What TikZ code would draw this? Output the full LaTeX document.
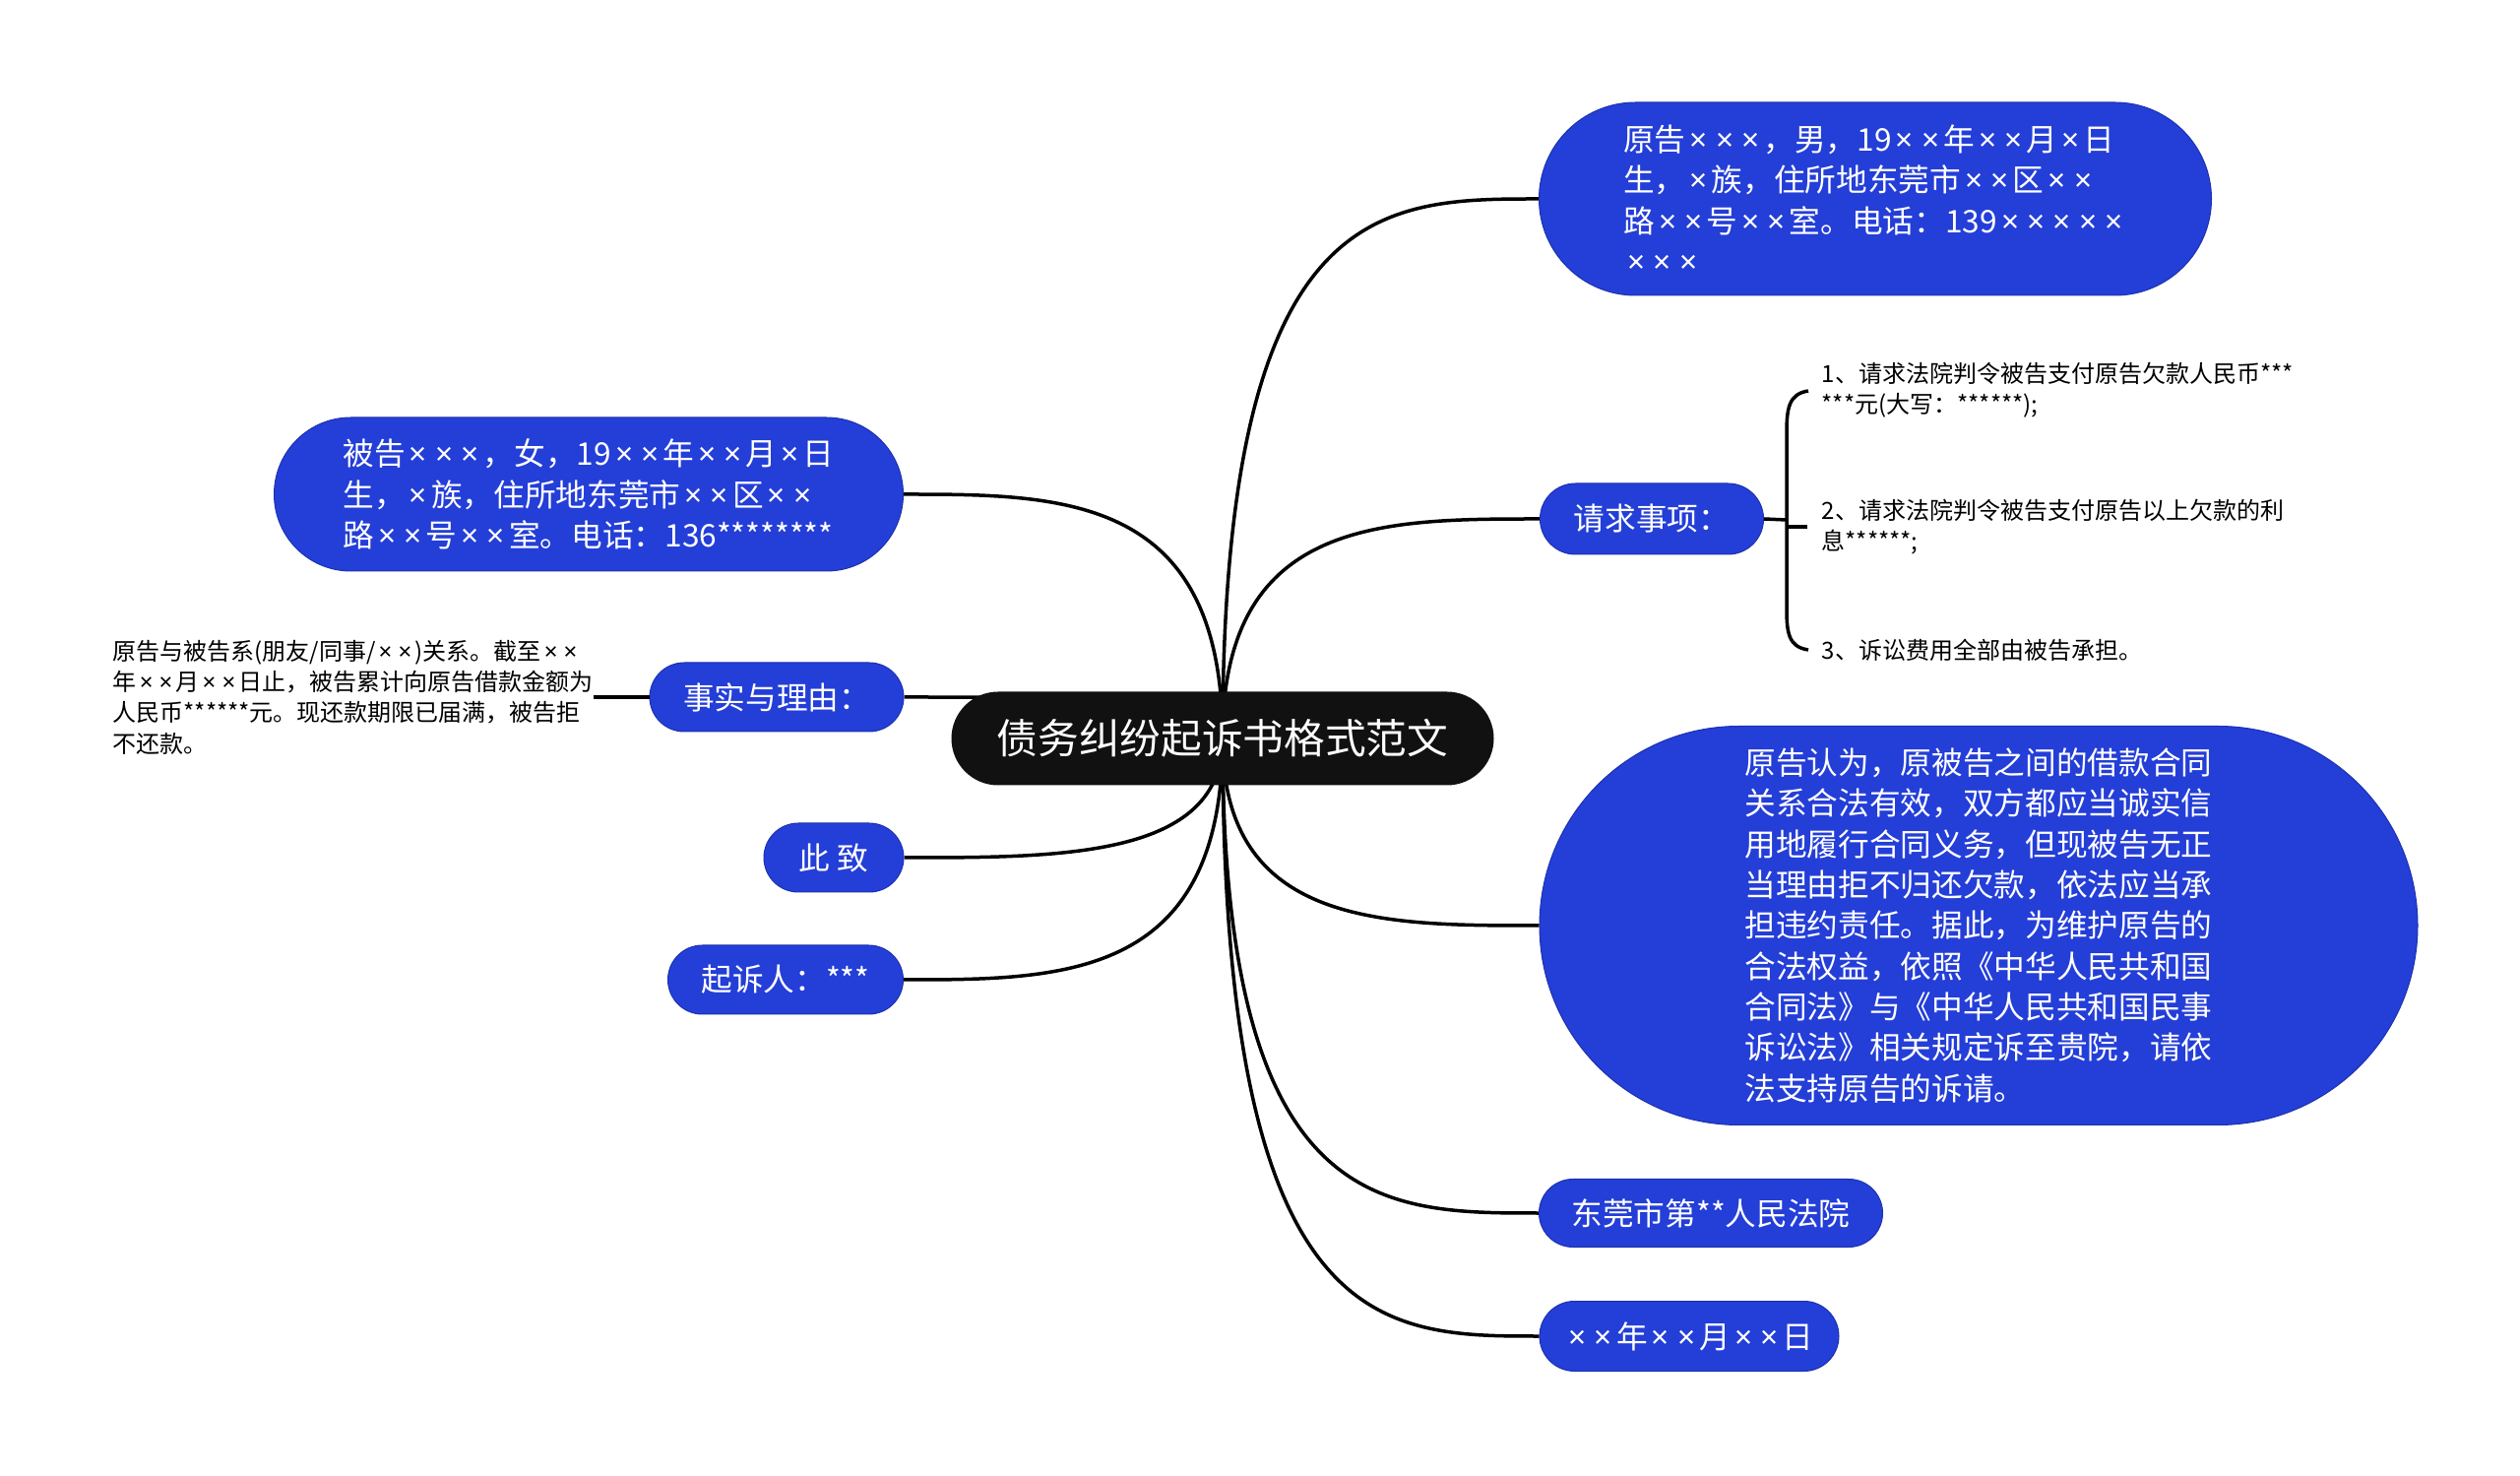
\documentclass[tikz,border=0pt]{standalone}
\usepackage{fontspec}
\setmainfont{Noto Sans CJK SC}
\newfontfamily\narrowfont{Noto Sans}
\usepackage{tikz}
\usetikzlibrary{calc, backgrounds}
\definecolor{mapblue}{RGB}{36,62,216}
\definecolor{rootblack}{RGB}{17,17,17}
\newcommand{\midsize}{\fontsize{9.5pt}{12.4pt}\selectfont}
\newcommand{\smallsize}{\fontsize{7.2pt}{9.4pt}\selectfont}
\newcommand{\rootsize}{\fontsize{12.5pt}{15pt}\selectfont}
% narrow multiplication sign, as in the reference
\catcode`\×=\active
\def×{\kern0.13em{\narrowfont\char"D7\relax}\kern0.13em}

\begin{document}
\begin{tikzpicture}[x=0.3pt, y=-0.3pt,
		% Blue topic boxes of the mind map
		topic/.style={
			fill=mapblue,
			draw=mapblue!80!black,
			line width=0.3pt,
			text=white,
			font=\midsize,
			align=left,
			inner sep=0pt
		},
		% Size in pixels, ends fully rounded
		pill/.style 2 args={
			minimum width=#1*0.3pt,
			minimum height=#2*0.3pt,
			rounded corners=#2*0.15pt
		},
		% Plain text beside a topic
		note/.style={
			font=\smallsize,
			align=left,
			inner sep=0pt,
			anchor=west
		},
		% Curved branch lines
		branch/.style={
			line width=1.05pt,
			black
		}
		]
		
		\useasboundingbox (0,0) rectangle (2560,1499);
		
		% --- Central topic ---
		\node[fill=rootblack, text=white, font=\rootsize, inner sep=0pt, pill={551}{95}] (root) at (1242,750) {债务纠纷起诉书格式范文};
		
		% --- Right branches ---
		\node[topic, pill={683}{196}] (plaintiff) at (1905,202) {原告×××，男，19××年××月×日\\生，×族，住所地东莞市××区××\\路××号××室。电话：139×××××\\×××};
		\node[topic, pill={227}{72}] (claims) at (1678,527) {请求事项：};
		\node[topic, pill={892}{405}] (reason) at (2010,940) {原告认为，原被告之间的借款合同\\关系合法有效，双方都应当诚实信\\用地履行合同义务，但现被告无正\\当理由拒不归还欠款，依法应当承\\担违约责任。据此，为维护原告的\\合法权益，依照《中华人民共和国\\合同法》与《中华人民共和国民事\\诉讼法》相关规定诉至贵院，请依\\法支持原告的诉请。};
		\node[topic, pill={349}{69}] (court) at (1738,1232) {东莞市第**人民法院};
		\node[topic, pill={304}{71}] (date) at (1716,1357) {××年××月××日};
		
		% --- Left branches ---
		\node[topic, pill={639}{156}] (defendant) at (598,502) {被告×××，女，19××年××月×日\\生，×族，住所地东莞市××区××\\路××号××室。电话：136********};
		\node[topic, pill={258}{70}] (facts) at (789,708) {事实与理由：};
		\node[topic, pill={142}{70}] (regards) at (847,871) {此 致};
		\node[topic, pill={239}{70}] (signer) at (798,995) {起诉人：***};
		
		% --- Branch lines, behind the topics ---
		\begin{scope}[on background layer]
			\foreach \child in {plaintiff, claims, reason, court, date}
			\draw[branch] (root.center) .. controls (root.center |- \child.west) and ($(root.center |- \child.west)!0.5!(\child.west)$) .. (\child.west);
			\foreach \child in {defendant, facts, regards, signer}
			\draw[branch] (root.center) .. controls (root.center |- \child.east) and ($(root.center |- \child.east)!0.5!(\child.east)$) .. (\child.east);
		\end{scope}
		
		% --- Claims list with brace ---
		\coordinate (brace) at (1815,528);
		\draw[branch] (claims.east) -- (brace);
		\draw[branch] (1837,397) .. controls (1817,400) and (1815,415) .. (1815,440) -- (1815,618) .. controls (1815,643) and (1817,657) .. (1837,660);
		\draw[branch] (1815,535) -- (1836,535);
		\node[note] (item1) at (1850,396) {1、请求法院判令被告支付原告欠款人民币***\\***元(大写：******);};
		\node[note] (item2) at (1850,535) {2、请求法院判令被告支付原告以上欠款的利\\息******;};
		\node[note] (item3) at (1850,660) {3、诉讼费用全部由被告承担。};
		
		% --- Facts note ---
		\node[note] (factsnote) at (114,708) {原告与被告系(朋友/同事/××)关系。截至××\\年××月××日止，被告累计向原告借款金额为\\人民币******元。现还款期限已届满，被告拒\\不还款。};
		\draw[branch] (factsnote.east) -- (facts.west);
		
	\end{tikzpicture}
\end{document}
